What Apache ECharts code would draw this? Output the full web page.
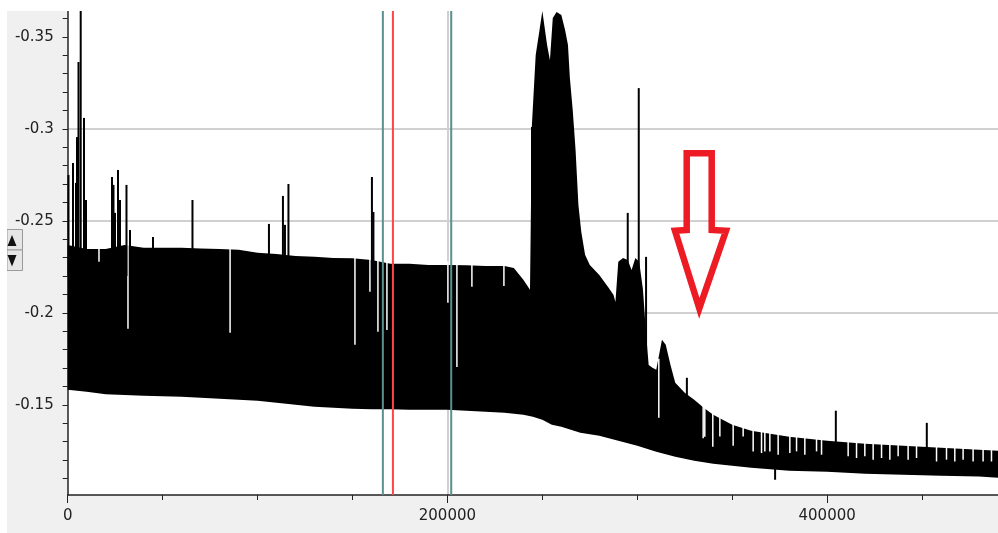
<!DOCTYPE html>
<html>
<head>
<meta charset="utf-8">
<script src="https://cdn.jsdelivr.net/npm/echarts@6/dist/echarts.min.js"></script>
<style>
html, body { margin: 0; padding: 0; background: #fff; }
#chart { position: absolute; left: 7px; top: 11px; width: 991px; height: 522px; }
</style>
</head>
<body>
<div id="chart"></div>
<script>
// axis ranges (y axis is drawn inverted: more negative at the top)
var xMin = 0, xMax = 490000;
var yTop = -0.364, yBottom = -0.101;

var xLabelValues = [0, 200000, 400000];
var xMinorTicks = [50000, 100000, 150000, 250000, 300000, 350000, 450000];
var yLabelValues = [-0.35, -0.3, -0.25, -0.2, -0.15];
var yTickValues = [-0.36, -0.35, -0.34, -0.33, -0.32, -0.31, -0.3, -0.29, -0.28, -0.27, -0.26,
    -0.25, -0.24, -0.23, -0.22, -0.21, -0.2, -0.19, -0.18, -0.17, -0.16, -0.15, -0.14, -0.13, -0.12, -0.11];

// upper edge of the dense black signal band [x, value]
var upperEdge = [
    [0, -0.2369], [10000, -0.2347], [20000, -0.2347], [30000, -0.2369], [40000, -0.2353],
    [50000, -0.2353], [60000, -0.2353], [70000, -0.2350], [80000, -0.2347], [90000, -0.2342],
    [100000, -0.2326], [110000, -0.2320], [120000, -0.2309], [130000, -0.2304], [140000, -0.2298],
    [150000, -0.2296], [160000, -0.2287], [170000, -0.2266], [180000, -0.2266], [190000, -0.2260],
    [200000, -0.2260], [210000, -0.2258], [220000, -0.2255], [230000, -0.2255], [235000, -0.2244],
    [240000, -0.2179], [243500, -0.2125], [244500, -0.3021], [246500, -0.3401], [248500, -0.3536],
    [250000, -0.3640], [252500, -0.3455], [254000, -0.3373], [255500, -0.3602], [257500, -0.3634],
    [260000, -0.3618], [262000, -0.3536], [263500, -0.3455], [264500, -0.3276], [266000, -0.3102],
    [267500, -0.2885], [269000, -0.2586], [270500, -0.2440], [272500, -0.2315], [275000, -0.2260],
    [280000, -0.2206], [285000, -0.2135], [287500, -0.2097], [288500, -0.2059], [290000, -0.2277],
    [292500, -0.2298], [295000, -0.2287], [297000, -0.2233], [299000, -0.2298], [301000, -0.2277],
    [303000, -0.2125], [304500, -0.1907], [306000, -0.1717], [308000, -0.1701], [310000, -0.1690],
    [313000, -0.1853], [315000, -0.1826], [317500, -0.1717], [320000, -0.1620], [325000, -0.1565],
    [330000, -0.1527], [335000, -0.1484], [340000, -0.1446], [350000, -0.1392], [360000, -0.1359],
    [380000, -0.1326], [400000, -0.1305], [420000, -0.1288], [440000, -0.1278], [460000, -0.1267],
    [480000, -0.1256], [490000, -0.1250]
];

// lower edge of the band [x, value]
var lowerEdge = [
    [0, -0.1582], [10000, -0.1571], [20000, -0.1557], [30000, -0.1554], [40000, -0.1549],
    [50000, -0.1546], [60000, -0.1544], [70000, -0.1538], [80000, -0.1533], [90000, -0.1527],
    [100000, -0.1522], [110000, -0.1511], [120000, -0.1500], [130000, -0.1489], [140000, -0.1484],
    [150000, -0.1479], [160000, -0.1476], [170000, -0.1476], [180000, -0.1473], [190000, -0.1473],
    [200000, -0.1473], [210000, -0.1468], [220000, -0.1462], [230000, -0.1457], [235000, -0.1451],
    [240000, -0.1446], [245000, -0.1435], [250000, -0.1419], [255000, -0.1392], [260000, -0.1381],
    [265000, -0.1365], [270000, -0.1348], [280000, -0.1332], [290000, -0.1305], [300000, -0.1278],
    [310000, -0.1245], [320000, -0.1218], [330000, -0.1196], [340000, -0.1180], [350000, -0.1169],
    [360000, -0.1158], [380000, -0.1142], [400000, -0.1137], [420000, -0.1126], [440000, -0.1120],
    [460000, -0.1115], [480000, -0.1110], [490000, -0.1104]
];

// single spikes sticking out of the band [x, from, to]
var spikes = [
    [420, -0.22, -0.2749], [2790, -0.22, -0.2814], [4370, -0.22, -0.2706], [4900, -0.22, -0.2955],
    [5690, -0.22, -0.3363], [6850, -0.22, -0.366], [8580, -0.22, -0.3059], [9640, -0.22, -0.2613],
    [23330, -0.22, -0.2738], [24120, -0.22, -0.2695], [24910, -0.22, -0.2543], [26490, -0.22, -0.2776],
    [27540, -0.22, -0.2613], [30960, -0.22, -0.2695], [32810, -0.22, -0.2450], [44920, -0.22, -0.2412],
    [65720, -0.22, -0.2613], [106000, -0.22, -0.2483], [113370, -0.22, -0.2635], [114430, -0.22, -0.2478],
    [116270, -0.22, -0.2700], [160240, -0.22, -0.2738], [161030, -0.22, -0.2548], [244550, -0.2, -0.3010],
    [294980, -0.21, -0.2543], [300780, -0.21, -0.3221], [304630, -0.18, -0.2304], [326130, -0.15, -0.1647],
    [372600, -0.12, -0.1093], [404580, -0.125, -0.1468], [452500, -0.12, -0.1402]
];

// narrow white drop-outs cutting into the band from its top [x, from, to]
var dips = [
    [16480, -0.238, -0.2277], [31750, -0.238, -0.1913], [85530, -0.238, -0.1891],
    [151300, -0.232, -0.1826], [159190, -0.232, -0.2114], [163400, -0.232, -0.1897],
    [168140, -0.232, -0.1907], [200260, -0.228, -0.2054], [205000, -0.228, -0.1706],
    [212900, -0.228, -0.2141], [229760, -0.228, -0.2146], [311340, -0.175, -0.1430],
    [334710, -0.150, -0.1319], [335570, -0.150, -0.1326], [339780, -0.147, -0.1272],
    [343500, -0.146, -0.1328], [350500, -0.141, -0.1277], [355770, -0.140, -0.1328],
    [361040, -0.137, -0.1247], [365450, -0.137, -0.1238], [367190, -0.137, -0.1247],
    [369830, -0.136, -0.1247], [374200, -0.136, -0.1229], [380360, -0.135, -0.1238],
    [383890, -0.135, -0.1247], [388260, -0.134, -0.1229], [394420, -0.134, -0.1247],
    [397060, -0.134, -0.1229], [411070, -0.132, -0.1220], [415490, -0.132, -0.1211],
    [419860, -0.131, -0.1220], [424240, -0.131, -0.1202], [428660, -0.131, -0.1211],
    [433030, -0.130, -0.1202], [437400, -0.130, -0.1220], [442660, -0.130, -0.1202],
    [447090, -0.130, -0.1211], [457620, -0.129, -0.1192], [462880, -0.129, -0.1202],
    [467250, -0.129, -0.1192], [471620, -0.128, -0.1202], [476890, -0.128, -0.1192],
    [482150, -0.128, -0.1192], [486570, -0.128, -0.1192]
];

// cursor positions (teal, red, teal)
var cursorX = [166000, 171300, 202000];

var chart = echarts.init(document.getElementById('chart'));

function renderBand(params, api) {
    if (params.dataIndex !== 0) return;
    var pts = [];
    upperEdge.forEach(function (p) { pts.push(api.coord(p)); });
    for (var i = lowerEdge.length - 1; i >= 0; i--) pts.push(api.coord(lowerEdge[i]));
    return { type: 'polygon', shape: { points: pts }, style: { fill: '#000' } };
}

function strokeRenderer(colorFn, width) {
    return function (params, api) {
        var a = api.coord([api.value(0), api.value(1)]);
        var b = api.coord([api.value(0), api.value(2)]);
        return {
            type: 'line',
            shape: { x1: a[0], y1: a[1], x2: b[0], y2: b[1] },
            style: { stroke: colorFn(params.dataIndex), lineWidth: width }
        };
    };
}

var labelStyle = { fontFamily: 'DejaVu Sans', fontSize: 15, color: '#222' };
var axisColor = '#222';
var gridLine = { color: '#d0d0d0', width: 2 };

var option = {
    animation: false,
    backgroundColor: '#f0f0f0',
    grid: { left: 60.7, right: 0, top: 0, bottom: 38, show: true, backgroundColor: '#fff', borderWidth: 0 },
    xAxis: [{
        type: 'value', min: xMin, max: xMax, position: 'bottom',
        axisLine: { onZero: false, lineStyle: { color: axisColor, width: 1.5 } },
        axisTick: { customValues: xLabelValues, length: 8, lineStyle: { color: axisColor } },
        axisLabel: Object.assign({
            customValues: xLabelValues, margin: 14,
            formatter: function (v) { return String(v); }
        }, labelStyle),
        splitLine: { show: true, showMinLine: false, showMaxLine: false, lineStyle: gridLine }
    }, {
        type: 'value', min: xMin, max: xMax, position: 'bottom',
        axisLine: { show: false },
        axisTick: { customValues: xMinorTicks, length: 5, lineStyle: { color: axisColor } },
        axisLabel: { show: false },
        splitLine: { show: false }
    }],
    yAxis: [{
        type: 'value', inverse: true, min: yTop, max: yBottom, position: 'left',
        axisLine: { show: true, onZero: false, lineStyle: { color: axisColor, width: 1.5 } },
        axisTick: { show: true, customValues: yLabelValues, length: 5, lineStyle: { color: axisColor } },
        axisLabel: Object.assign({ customValues: yLabelValues, margin: 14 }, labelStyle),
        splitLine: { show: true, showMinLine: false, showMaxLine: false, lineStyle: gridLine }
    }, {
        type: 'value', inverse: true, min: yTop, max: yBottom, position: 'left',
        axisLine: { show: false },
        axisTick: { show: true, customValues: yTickValues, length: 5, lineStyle: { color: axisColor } },
        axisLabel: { show: false },
        splitLine: { show: false }
    }],
    series: [{
        type: 'custom', name: 'band', clip: true, z: 2,
        data: [[xMin, yBottom]],
        renderItem: renderBand
    }, {
        type: 'custom', name: 'dips', clip: true, z: 3,
        encode: { x: 0, y: [1, 2] },
        data: dips,
        renderItem: strokeRenderer(function () { return '#fff'; }, 1.5)
    }, {
        type: 'custom', name: 'spikes', clip: true, z: 3,
        encode: { x: 0, y: [1, 2] },
        data: spikes,
        renderItem: strokeRenderer(function () { return '#000'; }, 2)
    }, {
        type: 'custom', name: 'cursors', clip: true, z: 4,
        encode: { x: 0, y: [1, 2] },
        data: cursorX.map(function (x) { return [x, yTop, yBottom]; }),
        renderItem: strokeRenderer(function (i) { return i === 1 ? '#ff4545' : '#5a9090'; }, 2)
    }],
    graphic: [
        // hollow red arrow annotation
        {
            type: 'polygon', z: 100,
            shape: { points: [[679.7, 142.3], [704.7, 142.3], [704.7, 219], [719, 219.7], [692.3, 297.3], [668, 219.7], [679.7, 219]] },
            style: { fill: null, stroke: '#ed1c24', lineWidth: 6.5, lineJoin: 'miter' }
        },
        // small up/down spinner at the left edge
        { type: 'rect', z: 100, shape: { x: 0, y: 218.5, width: 15.5, height: 20.5 }, style: { fill: '#e6e6e6', stroke: '#9a9a9a', lineWidth: 1 } },
        { type: 'rect', z: 100, shape: { x: 0, y: 239, width: 15.5, height: 20.5 }, style: { fill: '#e6e6e6', stroke: '#9a9a9a', lineWidth: 1 } },
        { type: 'polygon', z: 101, shape: { points: [[5, 224], [0.5, 235], [9.5, 235]] }, style: { fill: '#111' } },
        { type: 'polygon', z: 101, shape: { points: [[0.5, 244], [9.5, 244], [5, 255.5]] }, style: { fill: '#111' } }
    ]
};

chart.setOption(option);
</script>
</body>
</html>
